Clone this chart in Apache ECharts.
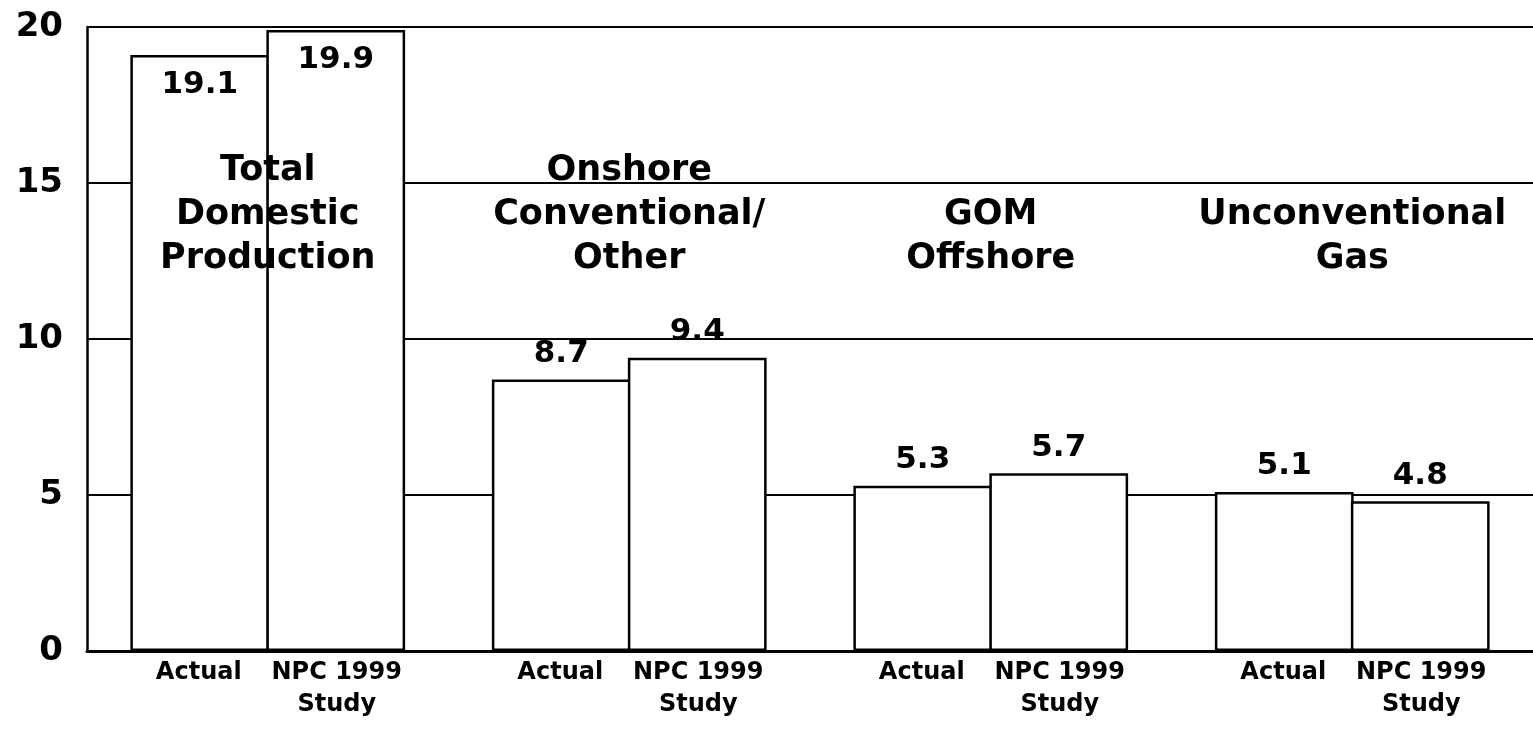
<!DOCTYPE html>
<html>
<head>
<meta charset="utf-8">
<script src="https://cdn.jsdelivr.net/npm/echarts@6/dist/echarts.min.js"></script>
<style>
  html, body { margin: 0; padding: 0; background: #fff; }
  #chart { width: 1533px; height: 738px; }
</style>
</head>
<body>
<div id="chart"></div>
<script>
// ---- data ----
const categories = ['Total Domestic Production', 'Onshore Conventional/Other', 'GOM Offshore', 'Unconventional Gas'];
const groupTitles = ['Total\nDomestic\nProduction', 'Onshore\nConventional/\nOther', 'GOM\nOffshore', 'Unconventional\nGas'];
const seriesNames = ['Actual', 'NPC 1999 Study'];
const barLabelsLine1 = ['Actual', 'NPC 1999'];
const barLabelsLine2 = ['', 'Study'];
const actualValues = [19.1, 8.7, 5.3, 5.1];
const npcValues = [19.9, 9.4, 5.7, 4.8];
const yMin = 0, yMax = 20, yStep = 5;

// ---- styles ----
const FONT = '"DejaVu Sans", "Liberation Sans", Arial, sans-serif';
const INK = '#000';

function makeData(vals) {
  return vals.map(v => {
    const item = { value: v };
    if (v > 18) {
      item.label = { position: 'insideTop', distance: 14 };
    }
    return item;
  });
}

const barStyle = { color: '#fff', borderColor: INK, borderWidth: 2.5 };
const labelStyle = {
  show: true, position: 'top', distance: 10,
  color: INK, fontFamily: FONT, fontWeight: 'bold', fontSize: 31,
  formatter: p => p.value.toFixed(1)
};

const chart = echarts.init(document.getElementById('chart'), null, { renderer: 'canvas' });
chart.setOption({
  backgroundColor: '#fff',
  animation: false,
  grid: { left: 87, right: -7, top: 27, bottom: 87, containLabel: false },
  xAxis: [
    {
      type: 'category',
      data: categories,
      position: 'bottom',
      axisLine: { show: true, onZero: false, lineStyle: { color: INK, width: 3 } },
      axisTick: { show: false },
      axisLabel: {
        interval: 0,
        margin: 6,
        color: INK,
        fontFamily: FONT,
        fontWeight: 'bold',
        fontSize: 24,
        lineHeight: 32,
        formatter: () =>
          '{a|' + barLabelsLine1[0] + '}{b|' + barLabelsLine1[1] + '}\n' +
          '{a|' + (barLabelsLine2[0] || ' ') + '}{b|' + barLabelsLine2[1] + '}',
        rich: {
          a: { width: 138, align: 'center', fontFamily: FONT, fontWeight: 'bold', fontSize: 24, lineHeight: 32, color: INK },
          b: { width: 138, align: 'center', fontFamily: FONT, fontWeight: 'bold', fontSize: 24, lineHeight: 32, color: INK }
        }
      },
      splitLine: { show: false },
      z: 6
    },
    {
      type: 'category',
      data: groupTitles,
      position: 'top',
      axisLine: { show: false },
      axisTick: { show: false },
      axisLabel: {
        inside: true,
        interval: 0,
        hideOverlap: false,
        margin: 254,
        verticalAlign: 'bottom',
        align: 'center',
        color: INK,
        fontFamily: FONT,
        fontWeight: 'bold',
        fontSize: 35,
        lineHeight: 44
      },
      splitLine: { show: false },
      z: 10
    }
  ],
  yAxis: {
    type: 'value',
    min: yMin, max: yMax, interval: yStep,
    axisLine: { show: true, lineStyle: { color: INK, width: 2.5 } },
    axisTick: { show: false },
    axisLabel: {
      margin: 24,
      color: INK,
      fontFamily: FONT,
      fontWeight: 'bold',
      fontSize: 34
    },
    splitLine: { show: true, lineStyle: { color: INK, width: 2 } }
  },
  series: [
    {
      name: seriesNames[0],
      type: 'bar',
      xAxisIndex: 0,
      data: makeData(actualValues),
      barGap: '-2%',
      barCategoryGap: '24%',
      itemStyle: barStyle,
      label: labelStyle
    },
    {
      name: seriesNames[1],
      type: 'bar',
      xAxisIndex: 0,
      data: makeData(npcValues),
      barGap: '-2%',
      barCategoryGap: '24%',
      itemStyle: barStyle,
      label: labelStyle
    }
  ]
});
</script>
</body>
</html>
